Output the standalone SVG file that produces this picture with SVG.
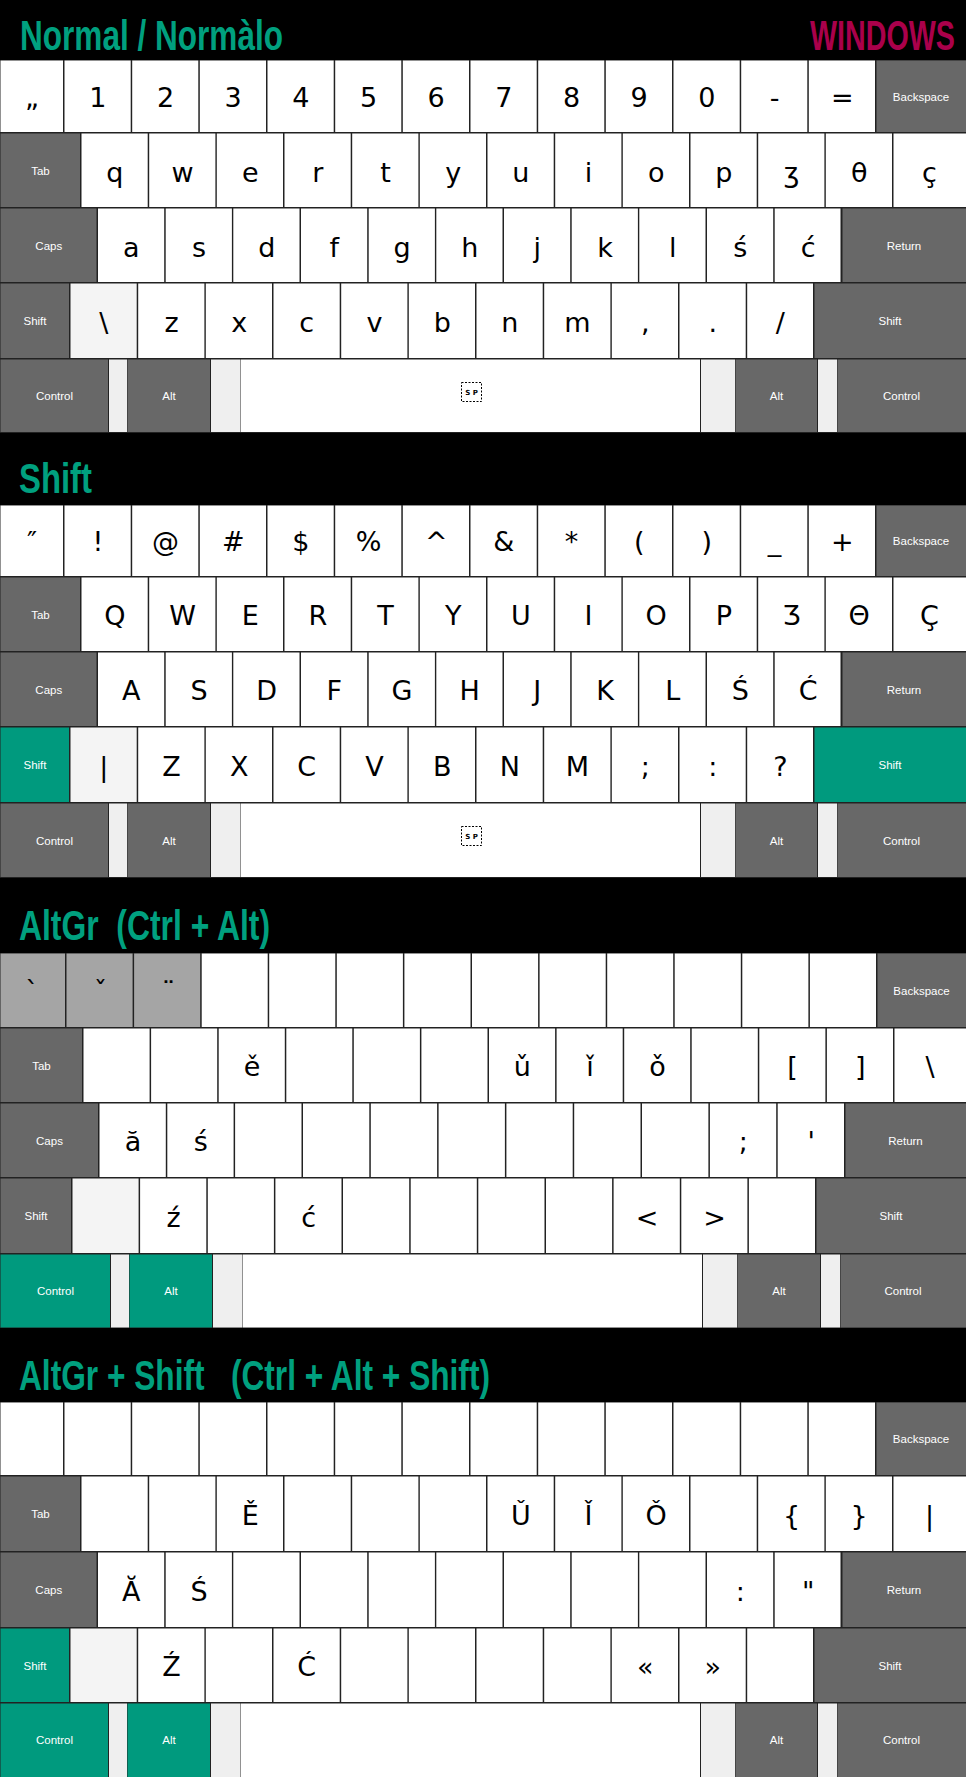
<svg xmlns="http://www.w3.org/2000/svg" width="966" height="1777" viewBox="0 0 966 1777">
<style>
.w{fill:#fff}.d{fill:#686868}.t{fill:#009a7e}.l{fill:#efefef}.m{fill:#f4f4f4}.g{fill:#a5a5a5}
.c{font-family:"DejaVu Sans","Noto Sans",sans-serif;font-size:27px;text-anchor:middle;fill:#000}
.s{font-family:"Liberation Sans","Noto Sans",sans-serif;font-size:11.5px;text-anchor:middle;fill:#fff}
.h{font-family:"Liberation Sans",Arial,sans-serif;font-weight:bold;font-size:42px;fill:#00a07f;white-space:pre}
.sp{fill:#fff;stroke:#000;stroke-width:1;stroke-dasharray:2 1.5}
.spt{font-family:"DejaVu Sans",sans-serif;font-weight:bold;font-size:7px;text-anchor:middle;fill:#000}
</style>
<rect width="966" height="1777" fill="#000"/>
<rect x="0" y="60" width="966" height="373" fill="#222"/>
<rect x="0" y="505" width="966" height="373" fill="#222"/>
<rect x="0" y="953" width="966" height="375" fill="#222"/>
<rect x="0" y="1402" width="966" height="375" fill="#222"/>

<g id="titles">
<text class="h" x="20" y="50" textLength="263" lengthAdjust="spacingAndGlyphs">Normal / Normàlo</text>
<text class="h" transform="translate(810 50) scale(1 1.4)" x="0" y="0" textLength="145" lengthAdjust="spacingAndGlyphs" style="fill:#aa004b;font-size:30px">WINDOWS</text>
<text class="h" x="19" y="493" textLength="73" lengthAdjust="spacingAndGlyphs">Shift</text>
<text class="h" x="19" y="940" textLength="251" lengthAdjust="spacingAndGlyphs">AltGr  (Ctrl + Alt)</text>
<text class="h" x="19" y="1390" textLength="471" lengthAdjust="spacingAndGlyphs">AltGr + Shift   (Ctrl + Alt + Shift)</text>
</g>

<g id="connectors"/>

<!-- ============ SECTION 1 ============ -->
<g id="s1">
<g id="s1r1a"><rect class="w" x="0.5" y="60.5" width="62.5" height="71.5"/><text class="c" x="32" y="107">„</text></g>
<g id="s1r1b"><rect class="w" x="64.5" y="60.5" width="66.2" height="71.5"/><text class="c" x="97.8" y="107">1</text></g>
<g id="s1r1c"><rect class="w" x="132.2" y="60.5" width="66.1" height="71.5"/><text class="c" x="165.5" y="107">2</text></g>
<g id="s1r1d"><rect class="w" x="199.8" y="60.5" width="66.2" height="71.5"/><text class="c" x="233.2" y="107">3</text></g>
<g id="s1r1e"><rect class="w" x="267.5" y="60.5" width="66.2" height="71.5"/><text class="c" x="300.8" y="107">4</text></g>
<g id="s1r1f"><rect class="w" x="335.2" y="60.5" width="66.1" height="71.5"/><text class="c" x="368.5" y="107">5</text></g>
<g id="s1r1g"><rect class="w" x="402.8" y="60.5" width="66.2" height="71.5"/><text class="c" x="436.2" y="107">6</text></g>
<g id="s1r1h"><rect class="w" x="470.5" y="60.5" width="66.2" height="71.5"/><text class="c" x="503.8" y="107">7</text></g>
<g id="s1r1i"><rect class="w" x="538.2" y="60.5" width="66.1" height="71.5"/><text class="c" x="571.5" y="107">8</text></g>
<g id="s1r1j"><rect class="w" x="605.8" y="60.5" width="66.2" height="71.5"/><text class="c" x="639.2" y="107">9</text></g>
<g id="s1r1k"><rect class="w" x="673.5" y="60.5" width="66.2" height="71.5"/><text class="c" x="706.8" y="107">0</text></g>
<g id="s1r1l"><rect class="w" x="741.2" y="60.5" width="66.1" height="71.5"/><text class="c" x="774.5" y="107">-</text></g>
<g id="s1r1m"><rect class="w" x="808.8" y="60.5" width="66.2" height="71.5"/><text class="c" x="842.2" y="107">=</text></g>
<g id="s1r1n"><rect class="d" x="876.5" y="60.5" width="89.5" height="71.5"/><text class="s" x="921" y="100.5">Backspace</text></g>

<g id="s1r2a"><rect class="d" x="0.5" y="133.5" width="79.5" height="73.5"/><text class="s" x="40.5" y="175">Tab</text></g>
<g id="s1r2b"><rect class="w" x="81.5" y="133.5" width="66.2" height="73.5"/><text class="c" x="114.8" y="182">q</text></g>
<g id="s1r2c"><rect class="w" x="149.2" y="133.5" width="66.2" height="73.5"/><text class="c" x="182.5" y="182">w</text></g>
<g id="s1r2d"><rect class="w" x="216.8" y="133.5" width="66.2" height="73.5"/><text class="c" x="250.2" y="182">e</text></g>
<g id="s1r2e"><rect class="w" x="284.5" y="133.5" width="66.2" height="73.5"/><text class="c" x="317.8" y="182">r</text></g>
<g id="s1r2f"><rect class="w" x="352.2" y="133.5" width="66.2" height="73.5"/><text class="c" x="385.5" y="182">t</text></g>
<g id="s1r2g"><rect class="w" x="419.8" y="133.5" width="66.2" height="73.5"/><text class="c" x="453.2" y="182">y</text></g>
<g id="s1r2h"><rect class="w" x="487.5" y="133.5" width="66.2" height="73.5"/><text class="c" x="520.8" y="182">u</text></g>
<g id="s1r2i"><rect class="w" x="555.2" y="133.5" width="66.2" height="73.5"/><text class="c" x="588.5" y="182">i</text></g>
<g id="s1r2j"><rect class="w" x="622.8" y="133.5" width="66.2" height="73.5"/><text class="c" x="656.2" y="182">o</text></g>
<g id="s1r2k"><rect class="w" x="690.5" y="133.5" width="66.2" height="73.5"/><text class="c" x="723.8" y="182">p</text></g>
<g id="s1r2l"><rect class="w" x="758.2" y="133.5" width="66.2" height="73.5"/><text class="c" x="791.5" y="182">ʒ</text></g>
<g id="s1r2m"><rect class="w" x="825.8" y="133.5" width="66.2" height="73.5"/><text class="c" x="859.2" y="182">θ</text></g>
<g id="s1r2n"><rect class="w" x="893.5" y="133.5" width="72.5" height="73.5"/><text class="c" x="929.5" y="182">ç</text></g>

<g id="s1r3a"><rect class="d" x="0.5" y="208.5" width="96" height="73.5"/><text class="s" x="48.8" y="250">Caps</text></g>
<g id="s1r3b"><rect class="w" x="98" y="208.5" width="66.2" height="73.5"/><text class="c" x="131.3" y="257">a</text></g>
<g id="s1r3c"><rect class="w" x="165.7" y="208.5" width="66.2" height="73.5"/><text class="c" x="199" y="257">s</text></g>
<g id="s1r3d"><rect class="w" x="233.3" y="208.5" width="66.2" height="73.5"/><text class="c" x="266.7" y="257">d</text></g>
<g id="s1r3e"><rect class="w" x="301" y="208.5" width="66.2" height="73.5"/><text class="c" x="334.3" y="257">f</text></g>
<g id="s1r3f"><rect class="w" x="368.7" y="208.5" width="66.2" height="73.5"/><text class="c" x="402" y="257">g</text></g>
<g id="s1r3g"><rect class="w" x="436.3" y="208.5" width="66.2" height="73.5"/><text class="c" x="469.7" y="257">h</text></g>
<g id="s1r3h"><rect class="w" x="504" y="208.5" width="66.2" height="73.5"/><text class="c" x="537.3" y="257">j</text></g>
<g id="s1r3i"><rect class="w" x="571.7" y="208.5" width="66.2" height="73.5"/><text class="c" x="605" y="257">k</text></g>
<g id="s1r3j"><rect class="w" x="639.3" y="208.5" width="66.2" height="73.5"/><text class="c" x="672.7" y="257">l</text></g>
<g id="s1r3k"><rect class="w" x="707" y="208.5" width="66.2" height="73.5"/><text class="c" x="740.3" y="257">ś</text></g>
<g id="s1r3l"><rect class="w" x="774.7" y="208.5" width="65.8" height="73.5"/><text class="c" x="808.1" y="257">ć</text></g>
<g id="s1r3m"><rect class="d" x="842.5" y="208.5" width="123.5" height="73.5"/><text class="s" x="904" y="250">Return</text></g>

<g id="s1r4a"><rect class="d" x="0.5" y="283.5" width="68.5" height="74.5"/><text class="s" x="35" y="325">Shift</text></g>
<g id="s1r4b"><rect class="m" x="70.5" y="283.5" width="66.2" height="74.5"/><text class="c" x="103.8" y="332">\</text></g>
<g id="s1r4c"><rect class="w" x="138.2" y="283.5" width="66.2" height="74.5"/><text class="c" x="171.5" y="332">z</text></g>
<g id="s1r4d"><rect class="w" x="205.8" y="283.5" width="66.2" height="74.5"/><text class="c" x="239.2" y="332">x</text></g>
<g id="s1r4e"><rect class="w" x="273.5" y="283.5" width="66.2" height="74.5"/><text class="c" x="306.8" y="332">c</text></g>
<g id="s1r4f"><rect class="w" x="341.2" y="283.5" width="66.2" height="74.5"/><text class="c" x="374.5" y="332">v</text></g>
<g id="s1r4g"><rect class="w" x="408.8" y="283.5" width="66.2" height="74.5"/><text class="c" x="442.2" y="332">b</text></g>
<g id="s1r4h"><rect class="w" x="476.5" y="283.5" width="66.2" height="74.5"/><text class="c" x="509.8" y="332">n</text></g>
<g id="s1r4i"><rect class="w" x="544.2" y="283.5" width="66.2" height="74.5"/><text class="c" x="577.5" y="332">m</text></g>
<g id="s1r4j"><rect class="w" x="611.8" y="283.5" width="66.2" height="74.5"/><text class="c" x="645.2" y="332">,</text></g>
<g id="s1r4k"><rect class="w" x="679.5" y="283.5" width="66.2" height="74.5"/><text class="c" x="712.8" y="332">.</text></g>
<g id="s1r4l"><rect class="w" x="747.2" y="283.5" width="65.8" height="74.5"/><text class="c" x="780.3" y="332">/</text></g>
<g id="s1r4m"><rect class="d" x="814.5" y="283.5" width="151.5" height="74.5"/><text class="s" x="890" y="325">Shift</text></g>

<g id="s1r5a"><rect class="d" x="0.5" y="359.5" width="107.5" height="72.5"/><text class="s" x="54.5" y="400">Control</text></g>
<rect class="l" x="109" y="359.5" width="18" height="72.5"/>
<g id="s1r5b"><rect class="d" x="127.5" y="359.5" width="82.5" height="72.5"/><text class="s" x="169" y="400">Alt</text></g>
<rect class="l" x="211" y="359.5" width="29" height="72.5"/>
<g id="s1r5c"><rect class="w" x="240.5" y="359.5" width="459.5" height="72.5"/><rect class="sp" x="461.5" y="382.5" width="20" height="19"/><text class="spt" x="471.5" y="395">S P</text></g>
<rect class="l" x="701" y="359.5" width="34" height="72.5"/>
<g id="s1r5d"><rect class="d" x="735.5" y="359.5" width="81.5" height="72.5"/><text class="s" x="776.5" y="400">Alt</text></g>
<rect class="l" x="818" y="359.5" width="19" height="72.5"/>
<g id="s1r5e"><rect class="d" x="837.5" y="359.5" width="128.5" height="72.5"/><text class="s" x="901.5" y="400">Control</text></g>
</g>

<!-- ============ SECTION 2 ============ -->
<g id="s2">
<g id="s2r1a"><rect class="w" x="0.5" y="505.5" width="62.5" height="70.5"/><text class="c" x="32" y="551">″</text></g>
<g id="s2r1b"><rect class="w" x="64.5" y="505.5" width="66.2" height="70.5"/><text class="c" x="97.8" y="551">!</text></g>
<g id="s2r1c"><rect class="w" x="132.2" y="505.5" width="66.1" height="70.5"/><text class="c" x="165.5" y="551">@</text></g>
<g id="s2r1d"><rect class="w" x="199.8" y="505.5" width="66.2" height="70.5"/><text class="c" x="233.2" y="551">#</text></g>
<g id="s2r1e"><rect class="w" x="267.5" y="505.5" width="66.2" height="70.5"/><text class="c" x="300.8" y="551">$</text></g>
<g id="s2r1f"><rect class="w" x="335.2" y="505.5" width="66.1" height="70.5"/><text class="c" x="368.5" y="551">%</text></g>
<g id="s2r1g"><rect class="w" x="402.8" y="505.5" width="66.2" height="70.5"/><text class="c" x="436.2" y="551">^</text></g>
<g id="s2r1h"><rect class="w" x="470.5" y="505.5" width="66.2" height="70.5"/><text class="c" x="503.8" y="551">&amp;</text></g>
<g id="s2r1i"><rect class="w" x="538.2" y="505.5" width="66.1" height="70.5"/><text class="c" x="571.5" y="551">*</text></g>
<g id="s2r1j"><rect class="w" x="605.8" y="505.5" width="66.2" height="70.5"/><text class="c" x="639.2" y="551">(</text></g>
<g id="s2r1k"><rect class="w" x="673.5" y="505.5" width="66.2" height="70.5"/><text class="c" x="706.8" y="551">)</text></g>
<g id="s2r1l"><rect class="w" x="741.2" y="505.5" width="66.1" height="70.5"/><text class="c" x="774.5" y="551">_</text></g>
<g id="s2r1m"><rect class="w" x="808.8" y="505.5" width="66.2" height="70.5"/><text class="c" x="842.2" y="551">+</text></g>
<g id="s2r1n"><rect class="d" x="876.5" y="505.5" width="89.5" height="70.5"/><text class="s" x="921" y="545">Backspace</text></g>

<g id="s2r2a"><rect class="d" x="0.5" y="577.5" width="79.5" height="73.5"/><text class="s" x="40.5" y="619">Tab</text></g>
<g id="s2r2b"><rect class="w" x="81.5" y="577.5" width="66.2" height="73.5"/><text class="c" x="114.8" y="625">Q</text></g>
<g id="s2r2c"><rect class="w" x="149.2" y="577.5" width="66.2" height="73.5"/><text class="c" x="182.5" y="625">W</text></g>
<g id="s2r2d"><rect class="w" x="216.8" y="577.5" width="66.2" height="73.5"/><text class="c" x="250.2" y="625">E</text></g>
<g id="s2r2e"><rect class="w" x="284.5" y="577.5" width="66.2" height="73.5"/><text class="c" x="317.8" y="625">R</text></g>
<g id="s2r2f"><rect class="w" x="352.2" y="577.5" width="66.2" height="73.5"/><text class="c" x="385.5" y="625">T</text></g>
<g id="s2r2g"><rect class="w" x="419.8" y="577.5" width="66.2" height="73.5"/><text class="c" x="453.2" y="625">Y</text></g>
<g id="s2r2h"><rect class="w" x="487.5" y="577.5" width="66.2" height="73.5"/><text class="c" x="520.8" y="625">U</text></g>
<g id="s2r2i"><rect class="w" x="555.2" y="577.5" width="66.2" height="73.5"/><text class="c" x="588.5" y="625">I</text></g>
<g id="s2r2j"><rect class="w" x="622.8" y="577.5" width="66.2" height="73.5"/><text class="c" x="656.2" y="625">O</text></g>
<g id="s2r2k"><rect class="w" x="690.5" y="577.5" width="66.2" height="73.5"/><text class="c" x="723.8" y="625">P</text></g>
<g id="s2r2l"><rect class="w" x="758.2" y="577.5" width="66.2" height="73.5"/><text class="c" x="791.5" y="625">Ʒ</text></g>
<g id="s2r2m"><rect class="w" x="825.8" y="577.5" width="66.2" height="73.5"/><text class="c" x="859.2" y="625">Θ</text></g>
<g id="s2r2n"><rect class="w" x="893.5" y="577.5" width="72.5" height="73.5"/><text class="c" x="929.5" y="625">Ç</text></g>

<g id="s2r3a"><rect class="d" x="0.5" y="652.5" width="96" height="73.5"/><text class="s" x="48.8" y="694">Caps</text></g>
<g id="s2r3b"><rect class="w" x="98" y="652.5" width="66.2" height="73.5"/><text class="c" x="131.3" y="700">A</text></g>
<g id="s2r3c"><rect class="w" x="165.7" y="652.5" width="66.2" height="73.5"/><text class="c" x="199" y="700">S</text></g>
<g id="s2r3d"><rect class="w" x="233.3" y="652.5" width="66.2" height="73.5"/><text class="c" x="266.7" y="700">D</text></g>
<g id="s2r3e"><rect class="w" x="301" y="652.5" width="66.2" height="73.5"/><text class="c" x="334.3" y="700">F</text></g>
<g id="s2r3f"><rect class="w" x="368.7" y="652.5" width="66.2" height="73.5"/><text class="c" x="402" y="700">G</text></g>
<g id="s2r3g"><rect class="w" x="436.3" y="652.5" width="66.2" height="73.5"/><text class="c" x="469.7" y="700">H</text></g>
<g id="s2r3h"><rect class="w" x="504" y="652.5" width="66.2" height="73.5"/><text class="c" x="537.3" y="700">J</text></g>
<g id="s2r3i"><rect class="w" x="571.7" y="652.5" width="66.2" height="73.5"/><text class="c" x="605" y="700">K</text></g>
<g id="s2r3j"><rect class="w" x="639.3" y="652.5" width="66.2" height="73.5"/><text class="c" x="672.7" y="700">L</text></g>
<g id="s2r3k"><rect class="w" x="707" y="652.5" width="66.2" height="73.5"/><text class="c" x="740.3" y="700">Ś</text></g>
<g id="s2r3l"><rect class="w" x="774.7" y="652.5" width="65.8" height="73.5"/><text class="c" x="808.1" y="700">Ć</text></g>
<g id="s2r3m"><rect class="d" x="842.5" y="652.5" width="123.5" height="73.5"/><text class="s" x="904" y="694">Return</text></g>

<g id="s2r4a"><rect class="t" x="0.5" y="727.5" width="68.5" height="74.5"/><text class="s" x="35" y="769">Shift</text></g>
<g id="s2r4b"><rect class="m" x="70.5" y="727.5" width="66.2" height="74.5"/><text class="c" x="103.8" y="776">|</text></g>
<g id="s2r4c"><rect class="w" x="138.2" y="727.5" width="66.2" height="74.5"/><text class="c" x="171.5" y="776">Z</text></g>
<g id="s2r4d"><rect class="w" x="205.8" y="727.5" width="66.2" height="74.5"/><text class="c" x="239.2" y="776">X</text></g>
<g id="s2r4e"><rect class="w" x="273.5" y="727.5" width="66.2" height="74.5"/><text class="c" x="306.8" y="776">C</text></g>
<g id="s2r4f"><rect class="w" x="341.2" y="727.5" width="66.2" height="74.5"/><text class="c" x="374.5" y="776">V</text></g>
<g id="s2r4g"><rect class="w" x="408.8" y="727.5" width="66.2" height="74.5"/><text class="c" x="442.2" y="776">B</text></g>
<g id="s2r4h"><rect class="w" x="476.5" y="727.5" width="66.2" height="74.5"/><text class="c" x="509.8" y="776">N</text></g>
<g id="s2r4i"><rect class="w" x="544.2" y="727.5" width="66.2" height="74.5"/><text class="c" x="577.5" y="776">M</text></g>
<g id="s2r4j"><rect class="w" x="611.8" y="727.5" width="66.2" height="74.5"/><text class="c" x="645.2" y="776">;</text></g>
<g id="s2r4k"><rect class="w" x="679.5" y="727.5" width="66.2" height="74.5"/><text class="c" x="712.8" y="776">:</text></g>
<g id="s2r4l"><rect class="w" x="747.2" y="727.5" width="65.8" height="74.5"/><text class="c" x="780.3" y="776">?</text></g>
<g id="s2r4m"><rect class="t" x="814.5" y="727.5" width="151.5" height="74.5"/><text class="s" x="890" y="769">Shift</text></g>

<g id="s2r5a"><rect class="d" x="0.5" y="803.5" width="107.5" height="73.5"/><text class="s" x="54.5" y="844.5">Control</text></g>
<rect class="l" x="109" y="803.5" width="18" height="73.5"/>
<g id="s2r5b"><rect class="d" x="127.5" y="803.5" width="82.5" height="73.5"/><text class="s" x="169" y="844.5">Alt</text></g>
<rect class="l" x="211" y="803.5" width="29" height="73.5"/>
<g id="s2r5c"><rect class="w" x="240.5" y="803.5" width="459.5" height="73.5"/><rect class="sp" x="461.5" y="826.5" width="20" height="19"/><text class="spt" x="471.5" y="839">S P</text></g>
<rect class="l" x="701" y="803.5" width="34" height="73.5"/>
<g id="s2r5d"><rect class="d" x="735.5" y="803.5" width="81.5" height="73.5"/><text class="s" x="776.5" y="844.5">Alt</text></g>
<rect class="l" x="818" y="803.5" width="19" height="73.5"/>
<g id="s2r5e"><rect class="d" x="837.5" y="803.5" width="128.5" height="73.5"/><text class="s" x="901.5" y="844.5">Control</text></g>
</g>

<!-- ============ SECTION 3 ============ -->
<g id="s3">
<g id="s3r1a"><rect class="g" x="0.5" y="953.5" width="64.5" height="73.5"/><text class="c" x="32" y="1001">`</text></g>
<g id="s3r1b"><rect class="g" x="66.5" y="953.5" width="66.1" height="73.5"/><text class="c" x="100.5" y="1001">ˇ</text></g>
<g id="s3r1c"><rect class="g" x="134.1" y="953.5" width="66.1" height="73.5"/><text class="c" x="168.5" y="1001">¨</text></g>
<g id="s3r1d"><rect class="w" x="201.7" y="953.5" width="66" height="73.5"/></g>
<g id="s3r1e"><rect class="w" x="269.2" y="953.5" width="66.1" height="73.5"/></g>
<g id="s3r1f"><rect class="w" x="336.8" y="953.5" width="66.1" height="73.5"/></g>
<g id="s3r1g"><rect class="w" x="404.4" y="953.5" width="66.1" height="73.5"/></g>
<g id="s3r1h"><rect class="w" x="472" y="953.5" width="66.1" height="73.5"/></g>
<g id="s3r1i"><rect class="w" x="539.6" y="953.5" width="66.1" height="73.5"/></g>
<g id="s3r1j"><rect class="w" x="607.2" y="953.5" width="66" height="73.5"/></g>
<g id="s3r1k"><rect class="w" x="674.7" y="953.5" width="66.1" height="73.5"/></g>
<g id="s3r1l"><rect class="w" x="742.3" y="953.5" width="66.1" height="73.5"/></g>
<g id="s3r1m"><rect class="w" x="809.9" y="953.5" width="66.1" height="73.5"/></g>
<g id="s3r1n"><rect class="d" x="877.5" y="953.5" width="88.5" height="73.5"/><text class="s" x="921.5" y="995">Backspace</text></g>

<g id="s3r2a"><rect class="d" x="0.5" y="1028.5" width="81.5" height="73.5"/><text class="s" x="41.5" y="1070">Tab</text></g>
<g id="s3r2b"><rect class="w" x="83.5" y="1028.5" width="66.1" height="73.5"/></g>
<g id="s3r2c"><rect class="w" x="151.1" y="1028.5" width="66.1" height="73.5"/></g>
<g id="s3r2d"><rect class="w" x="218.7" y="1028.5" width="66.1" height="73.5"/><text class="c" x="252" y="1076">ě</text></g>
<g id="s3r2e"><rect class="w" x="286.3" y="1028.5" width="66" height="73.5"/></g>
<g id="s3r2f"><rect class="w" x="353.8" y="1028.5" width="66.1" height="73.5"/></g>
<g id="s3r2g"><rect class="w" x="421.4" y="1028.5" width="66.1" height="73.5"/></g>
<g id="s3r2h"><rect class="w" x="489" y="1028.5" width="66.1" height="73.5"/><text class="c" x="522.3" y="1076">ǔ</text></g>
<g id="s3r2i"><rect class="w" x="556.6" y="1028.5" width="66.1" height="73.5"/><text class="c" x="589.9" y="1076">ǐ</text></g>
<g id="s3r2j"><rect class="w" x="624.2" y="1028.5" width="66" height="73.5"/><text class="c" x="657.5" y="1076">ǒ</text></g>
<g id="s3r2k"><rect class="w" x="691.7" y="1028.5" width="66.1" height="73.5"/></g>
<g id="s3r2l"><rect class="w" x="759.3" y="1028.5" width="66.1" height="73.5"/><text class="c" x="792.6" y="1076">[</text></g>
<g id="s3r2m"><rect class="w" x="826.9" y="1028.5" width="66.1" height="73.5"/><text class="c" x="860.2" y="1076">]</text></g>
<g id="s3r2n"><rect class="w" x="894.5" y="1028.5" width="71.5" height="73.5"/><text class="c" x="930" y="1076">\</text></g>

<g id="s3r3a"><rect class="d" x="0.5" y="1103.5" width="97.5" height="73.5"/><text class="s" x="49.5" y="1145">Caps</text></g>
<g id="s3r3b"><rect class="w" x="99.5" y="1103.5" width="66.3" height="73.5"/><text class="c" x="132.9" y="1151">ă</text></g>
<g id="s3r3c"><rect class="w" x="167.3" y="1103.5" width="66.3" height="73.5"/><text class="c" x="200.7" y="1151">ś</text></g>
<g id="s3r3d"><rect class="w" x="235.1" y="1103.5" width="66.4" height="73.5"/></g>
<g id="s3r3e"><rect class="w" x="303" y="1103.5" width="66.3" height="73.5"/></g>
<g id="s3r3f"><rect class="w" x="370.8" y="1103.5" width="66.3" height="73.5"/></g>
<g id="s3r3g"><rect class="w" x="438.6" y="1103.5" width="66.3" height="73.5"/></g>
<g id="s3r3h"><rect class="w" x="506.4" y="1103.5" width="66.3" height="73.5"/></g>
<g id="s3r3i"><rect class="w" x="574.2" y="1103.5" width="66.3" height="73.5"/></g>
<g id="s3r3j"><rect class="w" x="642" y="1103.5" width="66.4" height="73.5"/></g>
<g id="s3r3k"><rect class="w" x="709.9" y="1103.5" width="66.3" height="73.5"/><text class="c" x="743.3" y="1151">;</text></g>
<g id="s3r3l"><rect class="w" x="777.7" y="1103.5" width="66.3" height="73.5"/><text class="c" x="811.1" y="1151">'</text></g>
<g id="s3r3m"><rect class="d" x="845.5" y="1103.5" width="120.5" height="73.5"/><text class="s" x="905.5" y="1145">Return</text></g>

<g id="s3r4a"><rect class="d" x="0.5" y="1178.5" width="70.5" height="74.5"/><text class="s" x="36" y="1220">Shift</text></g>
<g id="s3r4b"><rect class="m" x="72.5" y="1178.5" width="66.1" height="74.5"/></g>
<g id="s3r4c"><rect class="w" x="140.1" y="1178.5" width="66.2" height="74.5"/><text class="c" x="173.5" y="1227">ź</text></g>
<g id="s3r4d"><rect class="w" x="207.8" y="1178.5" width="66.1" height="74.5"/></g>
<g id="s3r4e"><rect class="w" x="275.4" y="1178.5" width="66.1" height="74.5"/><text class="c" x="308.7" y="1227">ć</text></g>
<g id="s3r4f"><rect class="w" x="343" y="1178.5" width="66.2" height="74.5"/></g>
<g id="s3r4g"><rect class="w" x="410.7" y="1178.5" width="66.1" height="74.5"/></g>
<g id="s3r4h"><rect class="w" x="478.3" y="1178.5" width="66.2" height="74.5"/></g>
<g id="s3r4i"><rect class="w" x="546" y="1178.5" width="66.1" height="74.5"/></g>
<g id="s3r4j"><rect class="w" x="613.6" y="1178.5" width="66.2" height="74.5"/><text class="c" x="647" y="1227">&lt;</text></g>
<g id="s3r4k"><rect class="w" x="681.3" y="1178.5" width="66.1" height="74.5"/><text class="c" x="714.6" y="1227">&gt;</text></g>
<g id="s3r4l"><rect class="w" x="748.9" y="1178.5" width="66.1" height="74.5"/></g>
<g id="s3r4m"><rect class="d" x="816.5" y="1178.5" width="149.5" height="74.5"/><text class="s" x="891" y="1220">Shift</text></g>

<g id="s3r5a"><rect class="t" x="0.5" y="1254.5" width="109.5" height="73"/><text class="s" x="55.5" y="1295">Control</text></g>
<rect class="l" x="111" y="1254.5" width="18" height="73"/>
<g id="s3r5b"><rect class="t" x="129.5" y="1254.5" width="82.5" height="73"/><text class="s" x="171" y="1295">Alt</text></g>
<rect class="l" x="213" y="1254.5" width="29" height="73"/>
<g id="s3r5c"><rect class="w" x="242.5" y="1254.5" width="459.5" height="73"/></g>
<rect class="l" x="703" y="1254.5" width="34" height="73"/>
<g id="s3r5d"><rect class="d" x="737.5" y="1254.5" width="82.5" height="73"/><text class="s" x="779" y="1295">Alt</text></g>
<rect class="l" x="821" y="1254.5" width="19" height="73"/>
<g id="s3r5e"><rect class="d" x="840.5" y="1254.5" width="125.5" height="73"/><text class="s" x="903" y="1295">Control</text></g>
</g>

<!-- ============ SECTION 4 ============ -->
<g id="s4">
<g id="s4r1a"><rect class="w" x="0.5" y="1402.5" width="62.5" height="72.5"/></g>
<g id="s4r1b"><rect class="w" x="64.5" y="1402.5" width="66.2" height="72.5"/></g>
<g id="s4r1c"><rect class="w" x="132.2" y="1402.5" width="66.1" height="72.5"/></g>
<g id="s4r1d"><rect class="w" x="199.8" y="1402.5" width="66.2" height="72.5"/></g>
<g id="s4r1e"><rect class="w" x="267.5" y="1402.5" width="66.2" height="72.5"/></g>
<g id="s4r1f"><rect class="w" x="335.2" y="1402.5" width="66.1" height="72.5"/></g>
<g id="s4r1g"><rect class="w" x="402.8" y="1402.5" width="66.2" height="72.5"/></g>
<g id="s4r1h"><rect class="w" x="470.5" y="1402.5" width="66.2" height="72.5"/></g>
<g id="s4r1i"><rect class="w" x="538.2" y="1402.5" width="66.1" height="72.5"/></g>
<g id="s4r1j"><rect class="w" x="605.8" y="1402.5" width="66.2" height="72.5"/></g>
<g id="s4r1k"><rect class="w" x="673.5" y="1402.5" width="66.2" height="72.5"/></g>
<g id="s4r1l"><rect class="w" x="741.2" y="1402.5" width="66.1" height="72.5"/></g>
<g id="s4r1m"><rect class="w" x="808.8" y="1402.5" width="66.2" height="72.5"/></g>
<g id="s4r1n"><rect class="d" x="876.5" y="1402.5" width="89.5" height="72.5"/><text class="s" x="921" y="1443">Backspace</text></g>

<g id="s4r2a"><rect class="d" x="0.5" y="1476.5" width="79.5" height="74.5"/><text class="s" x="40.5" y="1518">Tab</text></g>
<g id="s4r2b"><rect class="w" x="81.5" y="1476.5" width="66.2" height="74.5"/></g>
<g id="s4r2c"><rect class="w" x="149.2" y="1476.5" width="66.2" height="74.5"/></g>
<g id="s4r2d"><rect class="w" x="216.8" y="1476.5" width="66.2" height="74.5"/><text class="c" x="250.2" y="1525">Ě</text></g>
<g id="s4r2e"><rect class="w" x="284.5" y="1476.5" width="66.2" height="74.5"/></g>
<g id="s4r2f"><rect class="w" x="352.2" y="1476.5" width="66.2" height="74.5"/></g>
<g id="s4r2g"><rect class="w" x="419.8" y="1476.5" width="66.2" height="74.5"/></g>
<g id="s4r2h"><rect class="w" x="487.5" y="1476.5" width="66.2" height="74.5"/><text class="c" x="520.8" y="1525">Ǔ</text></g>
<g id="s4r2i"><rect class="w" x="555.2" y="1476.5" width="66.2" height="74.5"/><text class="c" x="588.5" y="1525">Ǐ</text></g>
<g id="s4r2j"><rect class="w" x="622.8" y="1476.5" width="66.2" height="74.5"/><text class="c" x="656.2" y="1525">Ǒ</text></g>
<g id="s4r2k"><rect class="w" x="690.5" y="1476.5" width="66.2" height="74.5"/></g>
<g id="s4r2l"><rect class="w" x="758.2" y="1476.5" width="66.2" height="74.5"/><text class="c" x="791.5" y="1525">{</text></g>
<g id="s4r2m"><rect class="w" x="825.8" y="1476.5" width="66.2" height="74.5"/><text class="c" x="859.2" y="1525">}</text></g>
<g id="s4r2n"><rect class="w" x="893.5" y="1476.5" width="72.5" height="74.5"/><text class="c" x="929.5" y="1525">|</text></g>

<g id="s4r3a"><rect class="d" x="0.5" y="1552.5" width="96" height="74.5"/><text class="s" x="48.8" y="1594">Caps</text></g>
<g id="s4r3b"><rect class="w" x="98" y="1552.5" width="66.2" height="74.5"/><text class="c" x="131.3" y="1601">Ă</text></g>
<g id="s4r3c"><rect class="w" x="165.7" y="1552.5" width="66.2" height="74.5"/><text class="c" x="199" y="1601">Ś</text></g>
<g id="s4r3d"><rect class="w" x="233.3" y="1552.5" width="66.2" height="74.5"/></g>
<g id="s4r3e"><rect class="w" x="301" y="1552.5" width="66.2" height="74.5"/></g>
<g id="s4r3f"><rect class="w" x="368.7" y="1552.5" width="66.2" height="74.5"/></g>
<g id="s4r3g"><rect class="w" x="436.3" y="1552.5" width="66.2" height="74.5"/></g>
<g id="s4r3h"><rect class="w" x="504" y="1552.5" width="66.2" height="74.5"/></g>
<g id="s4r3i"><rect class="w" x="571.7" y="1552.5" width="66.2" height="74.5"/></g>
<g id="s4r3j"><rect class="w" x="639.3" y="1552.5" width="66.2" height="74.5"/></g>
<g id="s4r3k"><rect class="w" x="707" y="1552.5" width="66.2" height="74.5"/><text class="c" x="740.3" y="1601">:</text></g>
<g id="s4r3l"><rect class="w" x="774.7" y="1552.5" width="65.8" height="74.5"/><text class="c" x="808.1" y="1601">"</text></g>
<g id="s4r3m"><rect class="d" x="842.5" y="1552.5" width="123.5" height="74.5"/><text class="s" x="904" y="1594">Return</text></g>

<g id="s4r4a"><rect class="t" x="0.5" y="1628.5" width="68.5" height="73.5"/><text class="s" x="35" y="1670">Shift</text></g>
<g id="s4r4b"><rect class="m" x="70.5" y="1628.5" width="66.2" height="73.5"/></g>
<g id="s4r4c"><rect class="w" x="138.2" y="1628.5" width="66.2" height="73.5"/><text class="c" x="171.5" y="1676">Ź</text></g>
<g id="s4r4d"><rect class="w" x="205.8" y="1628.5" width="66.2" height="73.5"/></g>
<g id="s4r4e"><rect class="w" x="273.5" y="1628.5" width="66.2" height="73.5"/><text class="c" x="306.8" y="1676">Ć</text></g>
<g id="s4r4f"><rect class="w" x="341.2" y="1628.5" width="66.2" height="73.5"/></g>
<g id="s4r4g"><rect class="w" x="408.8" y="1628.5" width="66.2" height="73.5"/></g>
<g id="s4r4h"><rect class="w" x="476.5" y="1628.5" width="66.2" height="73.5"/></g>
<g id="s4r4i"><rect class="w" x="544.2" y="1628.5" width="66.2" height="73.5"/></g>
<g id="s4r4j"><rect class="w" x="611.8" y="1628.5" width="66.2" height="73.5"/><text class="c" x="645.2" y="1676">«</text></g>
<g id="s4r4k"><rect class="w" x="679.5" y="1628.5" width="66.2" height="73.5"/><text class="c" x="712.8" y="1676">»</text></g>
<g id="s4r4l"><rect class="w" x="747.2" y="1628.5" width="65.8" height="73.5"/></g>
<g id="s4r4m"><rect class="d" x="814.5" y="1628.5" width="151.5" height="73.5"/><text class="s" x="890" y="1670">Shift</text></g>

<g id="s4r5a"><rect class="t" x="0.5" y="1703.5" width="107.5" height="73.5"/><text class="s" x="54.5" y="1744">Control</text></g>
<rect class="l" x="109" y="1703.5" width="18" height="73.5"/>
<g id="s4r5b"><rect class="t" x="127.5" y="1703.5" width="82.5" height="73.5"/><text class="s" x="169" y="1744">Alt</text></g>
<rect class="l" x="211" y="1703.5" width="29" height="73.5"/>
<g id="s4r5c"><rect class="w" x="240.5" y="1703.5" width="459.5" height="73.5"/></g>
<rect class="l" x="701" y="1703.5" width="34" height="73.5"/>
<g id="s4r5d"><rect class="d" x="735.5" y="1703.5" width="81.5" height="73.5"/><text class="s" x="776.5" y="1744">Alt</text></g>
<rect class="l" x="818" y="1703.5" width="19" height="73.5"/>
<g id="s4r5e"><rect class="d" x="837.5" y="1703.5" width="128.5" height="73.5"/><text class="s" x="901.5" y="1744">Control</text></g>
</g>
</svg>
